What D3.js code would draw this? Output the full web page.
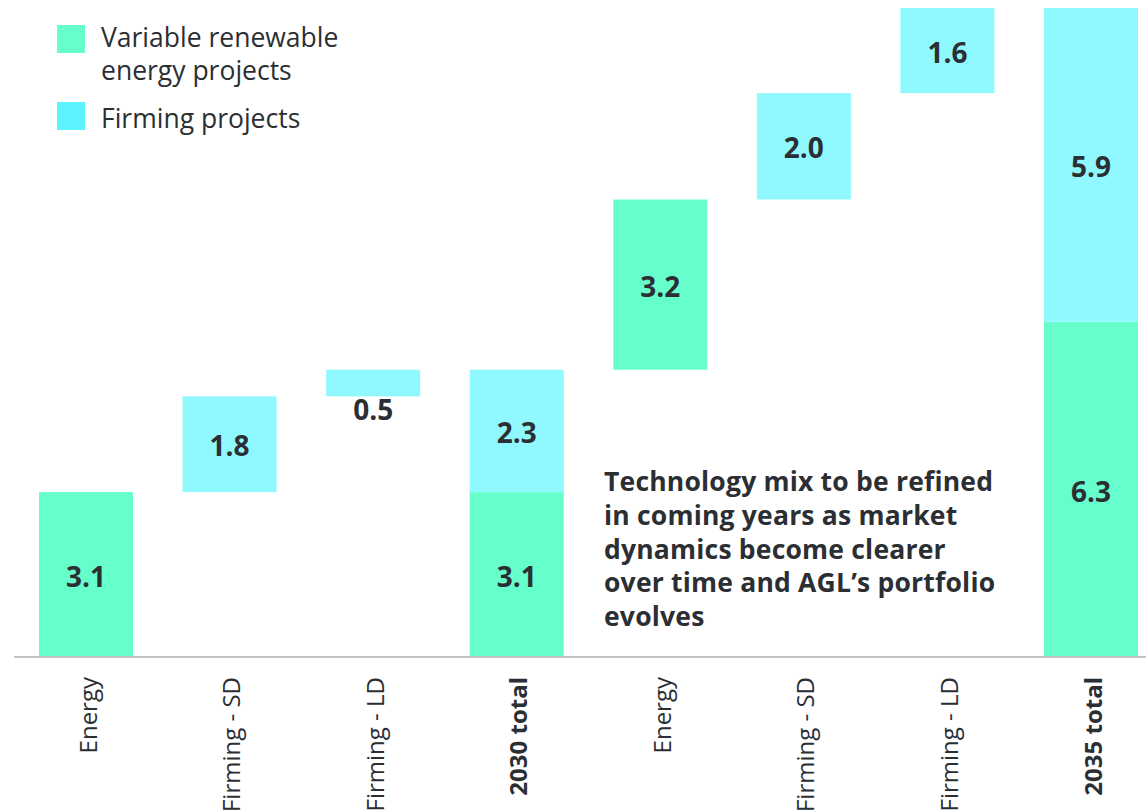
<!DOCTYPE html>
<html><head><meta charset="utf-8">
<script src="https://cdn.jsdelivr.net/npm/d3@7"></script>
<style>body{margin:0;background:#fff}svg{display:block}text{font-family:"Open Sans",sans-serif;fill:#2b2f33}</style>
</head><body><svg id="c" width="1146" height="811"></svg>
<script>
const categories = ["Energy","Firming - SD","Firming - LD","2030 total","Energy","Firming - SD","Firming - LD","2035 total"];
const isTotal = [false,false,false,true,false,false,false,true];
const renewableValues = [3.1,0,0,3.1,3.2,0,0,6.3];
const firmingValues = [0,1.8,0.5,2.3,0,2.0,1.6,5.9];
const legendLabels = [["Variable renewable","energy projects"],["Firming projects"]];
const noteLines = ["Technology mix to be refined","in coming years as market","dynamics become clearer","over time and AGL\u2019s portfolio","evolves"];

const colGreen = "#66ffcc", colCyan = "#8ff9ff", legGreen = "#66ffcc", legCyan = "#5cf5ff";
const svg = d3.select("#c");
const baseY = 657;
const x = d3.scaleBand().domain(d3.range(categories.length)).range([14.25,1162.75]).paddingInner(0.345).paddingOuter(0.1725);
const y = d3.scaleLinear().domain([0,12.2]).range([baseY,8]);

const segs = [];
let running = 0;
categories.forEach((c,i)=>{
  if(isTotal[i]){
    segs.push({i,lo:0,hi:renewableValues[i],v:renewableValues[i],col:colGreen});
    segs.push({i,lo:renewableValues[i],hi:renewableValues[i]+firmingValues[i],v:firmingValues[i],col:colCyan});
  } else {
    const v = renewableValues[i] + firmingValues[i];
    const col = renewableValues[i] > 0 ? colGreen : colCyan;
    segs.push({i,lo:running,hi:running+v,v,col});
    running += v;
  }
});

svg.selectAll("rect.bar").data(segs).enter().append("rect").attr("class","bar")
  .attr("x",d=>x(d.i)).attr("width",x.bandwidth())
  .attr("y",d=>y(d.hi)).attr("height",d=>y(d.lo)-y(d.hi)).attr("fill",d=>d.col);

svg.selectAll("text.val").data(segs).enter().append("text").attr("class","val")
  .attr("x",d=>x(d.i)+x.bandwidth()/2)
  .attr("y",d=>{const h=y(d.lo)-y(d.hi); return h<40 ? y(d.lo)+14 : (y(d.lo)+y(d.hi))/2+2;})
  .attr("dy","0.36em").attr("text-anchor","middle")
  .style("font-size","28px").style("font-weight","700").text(d=>d.v.toFixed(1));

const axis = d3.axisBottom(x).tickSize(0).tickFormat(i=>categories[i]);
const ag = svg.append("g").attr("transform",`translate(0,${baseY})`).call(axis);
ag.select(".domain").remove();
svg.append("line").attr("x1",14).attr("x2",1146).attr("y1",baseY).attr("y2",baseY).attr("stroke","#c4c4c4").attr("stroke-width",2);
ag.selectAll(".tick text")
  .attr("transform","rotate(-90)").attr("x",-20).attr("y",2).attr("dy","0.36em")
  .attr("text-anchor","end").style("font-size","24px").style("fill","#2b2f33")
  .style("font-family","'Open Sans',sans-serif")
  .style("font-weight",(d)=>isTotal[d]?"700":"400");

const leg = svg.append("g");
[[legGreen,25,[47,80]],[legCyan,102,[128]]].forEach((l,k)=>{
  leg.append("rect").attr("x",57).attr("y",l[1]).attr("width",28).attr("height",28).attr("fill",l[0]);
  legendLabels[k].forEach((t,j)=>leg.append("text").attr("x",101).attr("y",l[2][j]).style("font-size","26.5px").text(t));
});

noteLines.forEach((t,j)=>svg.append("text").attr("x",604).attr("y",491+j*33.8)
  .style("font-size","26.5px").style("font-weight","700").style("letter-spacing","0.2px").text(t));
</script></body></html>
